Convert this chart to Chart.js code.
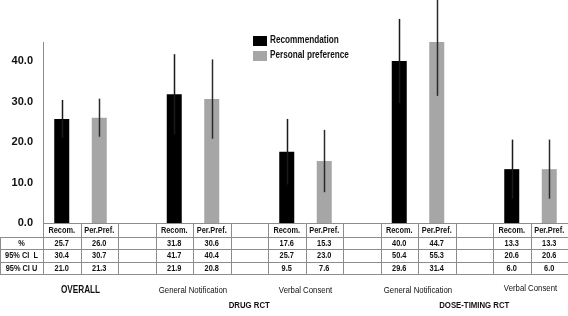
<!DOCTYPE html>
<html>
<head>
<meta charset="utf-8">
<script src="https://cdn.jsdelivr.net/npm/chart.js@4.4.1/dist/chart.umd.min.js"></script>
<style>
  html, body { margin: 0; padding: 0; background: #fff; }
  #wrap { position: relative; width: 568px; height: 316px; }
</style>
</head>
<body>
<div id="wrap"><canvas id="chart"></canvas></div>
<script>
// groups along the x axis
const groups = ['OVERALL', 'General Notification', 'Verbal Consent', 'General Notification', 'Verbal Consent']
const groupBold = [true, false, false, false, false]
const trials = [
    { label: 'DRUG RCT', groups: [1, 2] },
    { label: 'DOSE-TIMING RCT', groups: [3, 4] }
]
const subLabels = ['Recom.', 'Per.Pref.']
const rowLabels = ['%', '95% CI  L', '95% CI U']

const recomPct = [25.7, 31.8, 17.6, 40.0, 13.3]
const prefPct = [26.0, 30.6, 15.3, 44.7, 13.3]
const recomCiL = [30.4, 41.7, 25.7, 50.4, 20.6]
const prefCiL = [30.7, 40.4, 23.0, 55.3, 20.6]
const recomCiU = [21.0, 21.9, 9.5, 29.6, 6.0]
const prefCiU = [21.3, 20.8, 7.6, 31.4, 6.0]

const yTicks = [0, 10, 20, 30, 40]

const FONT = '"Liberation Sans", Arial, sans-serif'
const SQUEEZE = 0.82 // the original uses a narrow face

// build 14 columns: Recom, Per.Pref, blank, ...
const labels = []
const recomData = []
const prefData = []
const recomErr = []
const prefErr = []
groups.forEach((g, i) => {
    labels.push(subLabels[0], subLabels[1])
    recomData.push(recomPct[i], null)
    prefData.push(null, prefPct[i])
    recomErr.push([recomCiU[i], recomCiL[i]], null)
    prefErr.push(null, [prefCiU[i], prefCiL[i]])
    if (i < groups.length - 1) {
        labels.push('')
        recomData.push(null)
        prefData.push(null)
        recomErr.push(null)
        prefErr.push(null)
    }
})

// narrow text by scaling horizontally
function narrowText(ctx, text, x, y) {
    ctx.save()
    ctx.translate(x, y)
    ctx.scale(SQUEEZE, 1)
    ctx.fillText(text, 0, 0)
    ctx.restore()
}

const errorBars = {
    id: 'errorBars',
    afterDatasetsDraw(chart) {
        const ctx = chart.ctx
        const y = chart.scales.y
        ctx.save()
        chart.data.datasets.forEach((ds, di) => {
            const meta = chart.getDatasetMeta(di)
            ds.errors.forEach((e, i) => {
                if (!e) return
                const bar = meta.data[i]
                ctx.strokeStyle = ds.errorColor
                ctx.lineWidth = 1.5
                ctx.beginPath()
                ctx.moveTo(Math.round(bar.x) + 0.5, y.getPixelForValue(e[0]))
                ctx.lineTo(Math.round(bar.x) + 0.5, Math.max(0, y.getPixelForValue(e[1])))
                ctx.stroke()
            })
        })
        ctx.restore()
    }
}

const dataTable = {
    id: 'dataTable',
    afterDraw(chart) {
        const ctx = chart.ctx
        const x = chart.scales.x
        const area = chart.chartArea
        const colW = x.getPixelForValue(1) - x.getPixelForValue(0)
        const left = area.left
        const right = chart.width
        const rowTops = [area.bottom, area.bottom + 13.5, area.bottom + 26, area.bottom + 38.5, area.bottom + 51]
        ctx.save()
        ctx.strokeStyle = '#8c8c8c'
        ctx.lineWidth = 1
        // horizontal lines
        ctx.beginPath()
        ctx.moveTo(left, Math.round(rowTops[0]) + 0.5)
        ctx.lineTo(right, Math.round(rowTops[0]) + 0.5)
        for (let r = 1; r < rowTops.length; r++) {
            ctx.moveTo(0, Math.round(rowTops[r]) + 0.5)
            ctx.lineTo(right, Math.round(rowTops[r]) + 0.5)
        }
        // vertical lines
        ctx.moveTo(0.5, Math.round(rowTops[1]))
        ctx.lineTo(0.5, Math.round(rowTops[4]) + 1)
        ctx.moveTo(Math.round(left) + 0.5, Math.round(rowTops[0]))
        ctx.lineTo(Math.round(left) + 0.5, Math.round(rowTops[4]) + 1)
        for (let c = 0; c < labels.length; c++) {
            const xr = Math.round(x.getPixelForValue(c) + colW / 2) + 0.5
            ctx.moveTo(xr, Math.round(rowTops[0]))
            ctx.lineTo(xr, Math.round(rowTops[4]) + 1)
        }
        ctx.stroke()

        ctx.fillStyle = '#111'
        ctx.textAlign = 'center'
        ctx.textBaseline = 'middle'
        ctx.font = 'bold 9px ' + FONT
        // header row
        labels.forEach((l, c) => {
            if (l) narrowText(ctx, l, x.getPixelForValue(c), (rowTops[0] + rowTops[1]) / 2 + 1)
        })
        // row labels
        rowLabels.forEach((l, r) => {
            narrowText(ctx, l, left / 2, (rowTops[r + 1] + rowTops[r + 2]) / 2 + 0.5)
        })
        const rows = [[recomPct, prefPct], [recomCiL, prefCiL], [recomCiU, prefCiU]]
        rows.forEach((pair, r) => {
            const yy = (rowTops[r + 1] + rowTops[r + 2]) / 2 + 0.5
            groups.forEach((g, i) => {
                narrowText(ctx, pair[0][i].toFixed(1), x.getPixelForValue(i * 3), yy)
                narrowText(ctx, pair[1][i].toFixed(1), x.getPixelForValue(i * 3 + 1), yy)
            })
        })
        // group labels
        const groupX = groups.map((g, i) => x.getPixelForValue(i * 3 + 0.5))
        groups.forEach((g, i) => {
            ctx.font = (groupBold[i] ? 'bold 10px ' : '9.5px ') + FONT
            narrowText(ctx, g, groupX[i], i === 4 ? 288 : 290)
        })
        ctx.font = 'bold 9.5px ' + FONT
        trials.forEach(t => {
            const cx = (groupX[t.groups[0]] + groupX[t.groups[1]]) / 2
            narrowText(ctx, t.label, cx, 305)
        })

        // legend
        ctx.textAlign = 'left'
        ctx.font = 'bold 10px ' + FONT
        chart.data.datasets.forEach((ds, di) => {
            const ly = 36 + di * 15
            ctx.fillStyle = ds.backgroundColor
            ctx.fillRect(253, ly, 14, 10)
            ctx.fillStyle = '#111'
            narrowText(ctx, ds.label, 270, ly + 4)
        })
        ctx.restore()
    }
}

new Chart(document.getElementById('chart'), {
    type: 'bar',
    data: {
        labels: labels,
        datasets: [
            {
                label: 'Recommendation',
                data: recomData,
                errors: recomErr,
                errorColor: '#1a1a1a',
                backgroundColor: '#000000'
            },
            {
                label: 'Personal preference',
                data: prefData,
                errors: prefErr,
                errorColor: '#2a2a2a',
                backgroundColor: '#a6a6a6'
            }
        ]
    },
    options: {
        responsive: true,
        maintainAspectRatio: false,
        animation: false,
        grouped: false,
        categoryPercentage: 1,
        barPercentage: 0.4,
        layout: { padding: { top: 42, bottom: 93, left: 0, right: 0 } },
        plugins: {
            legend: { display: false },
            tooltip: { enabled: false }
        },
        scales: {
            x: { display: false },
            y: {
                min: 0,
                max: 44.7,
                afterFit(scale) { scale.width = 43 },
                afterBuildTicks(scale) { scale.ticks = yTicks.map(v => ({ value: v })) },
                grid: { display: false, drawTicks: false },
                border: { display: true, color: '#8c8c8c', width: 1 },
                ticks: {
                    padding: 10,
                    color: '#111',
                    font: { family: FONT, size: 11, weight: 'bold' },
                    callback: v => v.toFixed(1)
                }
            }
        }
    },
    plugins: [errorBars, dataTable]
})
</script>
</body>
</html>
